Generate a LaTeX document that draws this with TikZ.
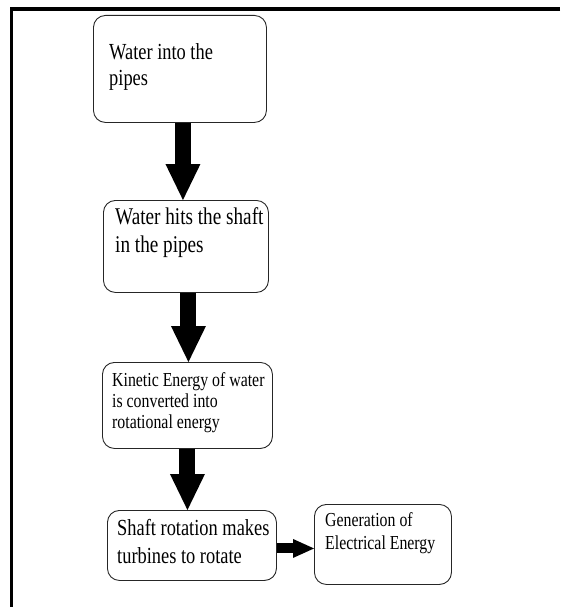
\documentclass[tikz,border=0pt]{standalone}
\usepackage{fontspec}
\setmainfont[FakeStretch=0.8]{Liberation Serif}
\usepackage{tikz}
\usetikzlibrary{arrows.meta,positioning}
\tikzset{
  frame/.style={line width=3.3pt,draw=black},
  stepbox/.style={draw=black!85,line width=0.9pt,rounded corners=12pt,anchor=north west,inner sep=0pt},
  steptext/.style={anchor=north west,inner sep=0pt,align=left,text=black},
  bigarrow/.style={line width=16pt,draw=black,-{Triangle[width=35pt,length=36pt,line width=0pt]}},
  sidearrow/.style={line width=10pt,draw=black,-{Triangle[width=19pt,length=21pt,line width=0pt]}}
}

\begin{document}
\begin{tikzpicture}[x=1pt,y=-1pt]
  \useasboundingbox (0,0) rectangle (560,607);
  \draw[frame] (560,9) -- (11.7,9) -- (11.7,607);

  \node[stepbox,minimum width=173pt,minimum height=107pt] (water) at (93,15) {};
  \node[stepbox,minimum width=165pt,minimum height=92pt] (hits) at (103,200) {};
  \node[stepbox,minimum width=170pt,minimum height=86pt] (kinetic) at (102,362) {};
  \node[stepbox,minimum width=169pt,minimum height=70pt] (turbine) at (107,510) {};
  \node[stepbox,minimum width=137pt,minimum height=80pt] (power) at (314,504) {};

  \node[steptext,font=\fontsize{23}{25.7}\selectfont,below right=28.5pt and 16pt of water.north west] (waterT) {Water into the\\pipes};
  \node[steptext,font=\fontsize{24}{28}\selectfont,below right=7.5pt and 12pt of hits.north west] (hitsT) {Water hits the shaft\\in the pipes};
  \node[steptext,font=\fontsize{19.8}{20.8}\selectfont,below right=10.5pt and 10pt of kinetic.north west] (kineticT) {Kinetic Energy of water\\is converted into\\rotational energy};
  \node[steptext,font=\fontsize{23}{27.6}\selectfont,below right=9.5pt and 10pt of turbine.north west] (turbineT) {Shaft rotation makes\\turbines to rotate};
  \node[steptext,font=\fontsize{19.8}{22.6}\selectfont,below right=8.5pt and 11pt of power.north west] (powerT) {Generation of\\Electrical Energy};

  \draw[bigarrow] ([xshift=3pt]water.south) -- ([xshift=3pt]water.south |- hits.north);
  \draw[bigarrow] ([xshift=2.5pt]hits.south) -- ([xshift=2.5pt]hits.south |- kinetic.north);
  \draw[bigarrow] (kinetic.south) -- (kinetic.south |- turbine.north);
  \draw[sidearrow] ([yshift=-3pt]turbine.east) -- ([yshift=-3pt]turbine.east -| power.west);
\end{tikzpicture}
\end{document}
